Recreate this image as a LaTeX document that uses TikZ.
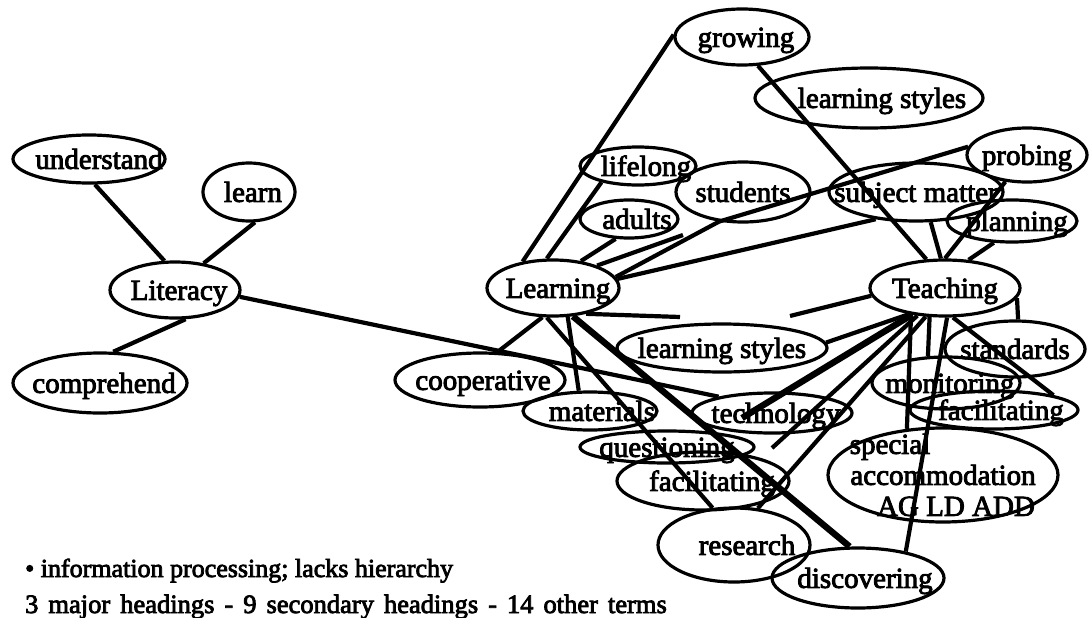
\documentclass[tikz,border=0pt]{standalone}
\usepackage{fontspec}
\setmainfont{Liberation Serif}[FakeBold=3]
\usetikzlibrary{shapes.geometric}
% label of fixed size: zero-size box, optional horizontal shift
\newcommand\lbl[2][0pt]{\makebox[0pt]{\hspace*{#1}\hspace*{#1}\raisebox{-0.34em}[0pt][0pt]{#2}}}
\begin{document}
\begin{tikzpicture}[x=1pt,y=-1pt,
  term/.style={ellipse, draw, line width=3.2pt, inner sep=0pt,
    font=\fontsize{29}{31}\selectfont},
  link/.style={line width=4.2pt},
  heavy/.style={line width=6.4pt},
  note/.style={anchor=base west, inner sep=0pt, font=\fontsize{26}{32}\selectfont}]
\useasboundingbox (0,0) rectangle (1089,618);

% Literacy cluster
\node[term, minimum width=152pt, minimum height=48pt] (und)  at (89,159)  {\lbl[10pt]{understand}};
\node[term, minimum width=92pt,  minimum height=58pt] (lrn)  at (249,192) {\lbl[4pt]{learn}};
\node[term, minimum width=130pt, minimum height=56pt] (lit)  at (175,290) {\lbl[4pt]{Literacy}};
\node[term, minimum width=174pt, minimum height=60pt] (comp) at (100,383) {\lbl[4pt]{comprehend}};

% Learning cluster
\node[term, minimum width=132pt, minimum height=56pt] (Lg)   at (553,288) {\lbl[5pt]{Learning}};
\node[term, minimum width=134pt, minimum height=56pt] (grow) at (742,37)  {\lbl[4pt]{growing}};
\node[term, minimum width=116pt, minimum height=38pt] (life) at (638,166) {\lbl[8pt]{lifelong}};
\node[term, minimum width=134pt, minimum height=60pt] (stud) at (743,192) {\lbl{students}};
\node[term, minimum width=98pt,  minimum height=38pt] (adul) at (629,219) {\lbl[8pt]{adults}};
\node[term, minimum width=170pt, minimum height=54pt] (coop) at (480,380) {\lbl[3pt]{cooperative}};
\node[term, minimum width=134pt, minimum height=38pt] (mat)  at (590,411) {\lbl[12pt]{materials}};
\node[term, minimum width=174pt, minimum height=32pt] (ques) at (667,447) {\lbl{questioning}};
\node[term, minimum width=172pt, minimum height=58pt] (facA) at (703,481) {\lbl[9pt]{facilitating}};
\node[term, minimum width=152pt, minimum height=74pt] (res)  at (734,545) {\lbl[13pt]{research}};
\node[term, minimum width=172pt, minimum height=60pt] (disc) at (858,578) {\lbl[7pt]{discovering}};
\node[term, minimum width=210pt, minimum height=48pt] (lsB)  at (722,348) {\lbl{learning styles}};
\node[term, minimum width=160pt, minimum height=40pt] (tech) at (772,413) {\lbl[4pt]{technology}};

% Teaching cluster
\node[term, minimum width=150pt, minimum height=56pt] (Tch)  at (945,288) {\lbl{Teaching}};
\node[term, minimum width=228pt, minimum height=60pt] (lsA)  at (869,98)  {\lbl[13pt]{learning styles}};
\node[term, minimum width=174pt, minimum height=58pt] (subj) at (916,192) {\lbl{subject matter}};
\node[term, minimum width=120pt, minimum height=54pt] (prob) at (1027,155) {\lbl{probing}};
\node[term, minimum width=130pt, minimum height=42pt] (plan) at (1012,221) {\lbl[5pt]{planning}};
\node[term, minimum width=140pt, minimum height=56pt] (stand) at (1015,349) {\lbl{standards}};
\node[term, minimum width=148pt, minimum height=52pt] (mon)  at (946,383) {\lbl[4pt]{monitoring}};
\node[term, minimum width=168pt, minimum height=38pt] (facB) at (994,410) {\lbl[7pt]{facilitating}};
\node[term, minimum width=230pt, minimum height=94pt] (spec) at (943,475)
  {\lbl{\begin{tabular}{@{}c@{}}special\hspace*{106pt}\\accommodation\\\hspace*{26pt}AG LD ADD\end{tabular}}};

% loose ends of some connectors
\coordinate (a1) at (683,235);
\coordinate (a2) at (680,317);
\coordinate (a3) at (790,316);
\coordinate (a4) at (772,448);
\coordinate (a5) at (742,418);

% Literacy links
\draw[link] (und.-77) -- (lit.110);
\draw[link] (lrn.-79) -- (lit.43);
\draw[link] (comp.67) -- (lit.-70);
\draw[link] (lit.-6) -- (tech.163);

% Learning links
\draw[link] (Lg.139) -- (grow.178);
\draw[link] (Lg.102) -- (life.-156);
\draw[link] (Lg.44) -- (adul.-124);
\draw[link] (Lg.27) -- (a1);
\draw[link] (Lg.10) -- (stud.-129);
\draw[link] (stud.-129) -- (prob.172);
\draw[link] (Lg.8) -- (subj.-146);
\draw[link] (Lg.-110) -- (coop.58);
\draw[link] (Lg.-63) -- (mat.119);
\draw[link] (Lg.-102) -- (res.120);
\draw[heavy] (Lg.-55) -- (disc.105);
\draw[link] (Lg.-38) -- (a2);

% Teaching links
\draw[link] (grow.-61) -- (Tch.123);
\draw[link] (subj.-64) -- (Tch.98);
\draw[link] (prob.-129) -- (Tch.90);
\draw[link] (plan.-130) -- (Tch.50);
\draw[link] (Tch.-8) -- (stand.84);
\draw[link] (Tch.-174) -- (a3);
\draw[link] (Tch.-144) -- (lsB.3);
\draw[link] (Tch.-135) -- (a4);
\draw[heavy] (Tch.-141) -- (a5);
\draw[link] (Tch.-124) -- (res.57);
\draw[link] (Tch.-142) -- (spec.128);
\draw[link] (Tch.-118) -- (mon.124);
\draw[link] (Tch.-86) -- (disc.29);
\draw[link] (Tch.-75) -- (facB.14);

% notes under the map
\node[note] (n1) at (25,577) {• information processing; lacks hierarchy};
\node[note, font=\fontsize{26.5}{32}\selectfont] (n2) at (25,613)
  {\spaceskip=10pt 3 major headings - 9 secondary headings - 14 other terms};
\end{tikzpicture}
\end{document}
